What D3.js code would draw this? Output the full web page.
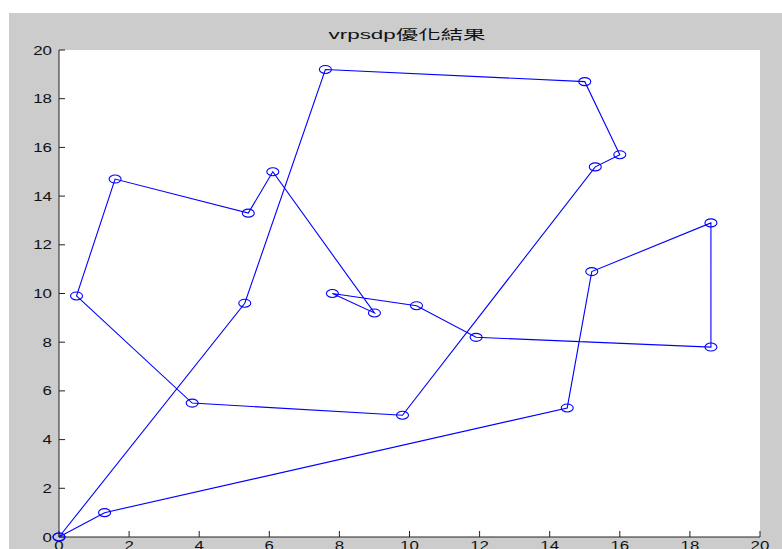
<!DOCTYPE html>
<html>
<head>
<meta charset="utf-8">
<script src="https://cdn.jsdelivr.net/npm/d3@7"></script>
<style>
  html, body { margin: 0; padding: 0; background: #fff; }
  svg { display: block; }
</style>
</head>
<body>
<div id="chart"></div>
<script>
// Données de la tournée (ordre de visite)
const routeX = [0, 1.3, 14.5, 15.2, 18.6, 18.6, 11.9, 10.2, 7.8, 9.0, 6.1, 5.4, 1.6, 0.5, 3.8, 9.8, 15.3, 16.0, 15.0, 7.6, 5.3, 0];
const routeY = [0, 1.0, 5.3, 10.9, 12.9, 7.8, 8.2, 9.5, 10.0, 9.2, 15.0, 13.3, 14.7, 9.9, 5.5, 5.0, 15.2, 15.7, 18.7, 19.2, 9.6, 0];
const xTicks = [0, 2, 4, 6, 8, 10, 12, 14, 16, 18, 20];
const yTicks = [0, 2, 4, 6, 8, 10, 12, 14, 16, 18, 20];
const titre = "vrpsdp優化結果";

const width = 782;
const height = 549;
const margin = { left: 59, right: 22, top: 50, bottom: 12 };

const svg = d3.select("#chart")
    .append("svg")
    .attr("width", width)
    .attr("height", height);

// fond gris de la figure
svg.append("rect")
    .attr("x", 9).attr("y", 13)
    .attr("width", width - 9).attr("height", height - 13)
    .attr("fill", "#cccccc");

const x = d3.scaleLinear().domain([0, 20]).range([margin.left, width - margin.right]);
const y = d3.scaleLinear().domain([0, 20]).range([height - margin.bottom, margin.top]);

// zone des axes
svg.append("rect")
    .attr("x", x(0)).attr("y", y(20))
    .attr("width", x(20) - x(0)).attr("height", y(0) - y(20))
    .attr("fill", "#fff");

const fontTick = "'Liberation Sans', Arial, sans-serif";

// axe Y
const gy = svg.append("g").attr("transform", `translate(${x(0)},0)`);
gy.append("line").attr("y1", y(0)).attr("y2", y(20)).attr("stroke", "#222");
gy.selectAll(".tk").data(yTicks).enter().append("line")
    .attr("x1", 0).attr("x2", 6)
    .attr("y1", d => y(d)).attr("y2", d => y(d))
    .attr("stroke", "#222");
gy.selectAll(".lbl").data(yTicks).enter().append("text")
    .attr("transform", d => `translate(-7,${y(d) + 4.5}) scale(1.35,1)`)
    .attr("text-anchor", "end")
    .attr("font-family", fontTick)
    .attr("font-size", 12.5)
    .attr("fill", "#111")
    .text(d => d);

// axe X
const gx = svg.append("g").attr("transform", `translate(0,${y(0)})`);
gx.append("line").attr("x1", x(0)).attr("x2", x(20)).attr("stroke", "#222");
gx.selectAll(".tk").data(xTicks).enter().append("line")
    .attr("x1", d => x(d)).attr("x2", d => x(d))
    .attr("y1", 0).attr("y2", -6)
    .attr("stroke", "#222");
gx.selectAll(".lbl").data(xTicks).enter().append("text")
    .attr("transform", d => `translate(${x(d)},13) scale(1.35,1)`)
    .attr("text-anchor", "middle")
    .attr("font-family", fontTick)
    .attr("font-size", 12.5)
    .attr("fill", "#111")
    .text(d => d);

// tracé de la tournée
const pts = routeX.map((v, i) => [v, routeY[i]]);
const line = d3.line().x(d => x(d[0])).y(d => y(d[1]));

svg.append("path")
    .datum(pts)
    .attr("d", line)
    .attr("fill", "none")
    .attr("stroke", "#0000ff")
    .attr("stroke-width", 1.1);

svg.selectAll(".pt").data(pts).enter().append("ellipse")
    .attr("cx", d => x(d[0]))
    .attr("cy", d => y(d[1]))
    .attr("rx", 6).attr("ry", 4)
    .attr("fill", "none")
    .attr("stroke", "#0000ff")
    .attr("stroke-width", 1.1);

// titre
svg.append("text")
    .attr("x", 407).attr("y", 39)
    .attr("text-anchor", "middle")
    .attr("font-family", "'Liberation Sans', 'Noto Sans CJK TC', sans-serif")
    .attr("font-size", 13)
    .attr("textLength", 157)
    .attr("lengthAdjust", "spacingAndGlyphs")
    .attr("fill", "#111")
    .text(titre);
</script>
</body>
</html>
